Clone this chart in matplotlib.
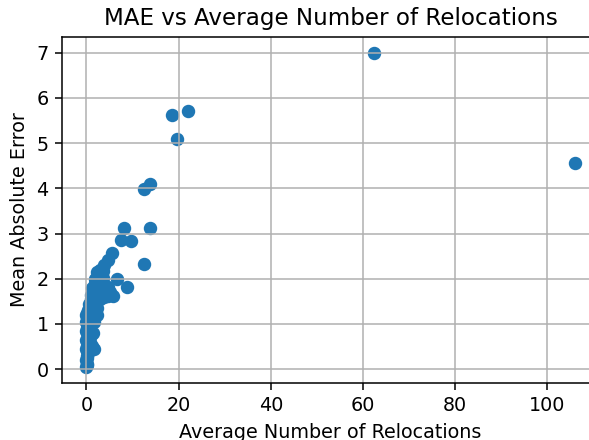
import numpy as np
from matplotlib import pyplot as plt

# average number of relocations (x) and mean absolute error (y)
relocations = [
  0.0, 0.05, 0.1, 0.0, 0.2, 0.05, 0.3, 0.1, 0.0, 0.2, 0.4, 0.1, 0.0, 0.3, 0.5,
  0.1, 0.0, 0.2, 0.4, 0.1, 0.0, 0.3, 0.1, 0.0, 0.2,
  1.7, 1.2, 0.7, 1.5, 1.0, 1.0, 1.6, 2.2, 2.4, 1.8, 1.2,
  0.3, 0.6, 1.2, 0.9, 1.6, 2.3, 3.0, 3.8, 4.6, 5.8, 5.2, 1.1,
  1.3, 2.0, 2.8, 3.6, 4.6, 1.8, 2.6, 3.4,
  1.9, 2.6, 3.5, 2.3, 3.0, 3.6,
  3.9, 4.6, 5.5,
  6.6, 8.9, 12.5, 7.4, 9.6, 8.1, 13.9, 12.6, 13.7, 19.7, 18.5, 22.1, 62.3, 105.9]
mae = [
  0.04, 0.08, 0.12, 0.2, 0.25, 0.3, 0.35, 0.4, 0.45, 0.5, 0.55, 0.6, 0.65, 0.7, 0.75,
  0.8, 0.85, 0.9, 0.95, 1.0, 1.05, 1.1, 1.15, 1.2, 1.25,
  0.45, 0.5, 0.6, 0.8, 0.75, 1.0, 1.05, 1.2, 1.35, 1.3, 1.2,
  1.3, 1.45, 1.4, 1.55, 1.55, 1.5, 1.55, 1.6, 1.62, 1.62, 1.7, 1.65,
  1.8, 1.75, 1.75, 1.78, 1.82, 1.9, 1.92, 1.95,
  2.0, 2.05, 2.02, 2.15, 2.2, 2.18,
  2.3, 2.42, 2.57,
  1.99, 1.81, 2.33, 2.85, 2.83, 3.12, 3.13, 3.99, 4.1, 5.1, 5.63, 5.72, 7.0, 4.55]

#-------------------------------------------------------------------------------
# figure
#-------------------------------------------------------------------------------

dpi = 138
fig = plt.figure(figsize=(589/dpi, 440/dpi), dpi=dpi)
ax = fig.add_axes([62/589, 57/440, 537/589, 346/440])
ax.scatter(relocations, mae)
ax.set_title('MAE vs Average Number of Relocations')
ax.set_xlabel('Average Number of Relocations')
ax.set_ylabel('Mean Absolute Error')
ax.grid(True)
fig.savefig('out.png', dpi=dpi)
